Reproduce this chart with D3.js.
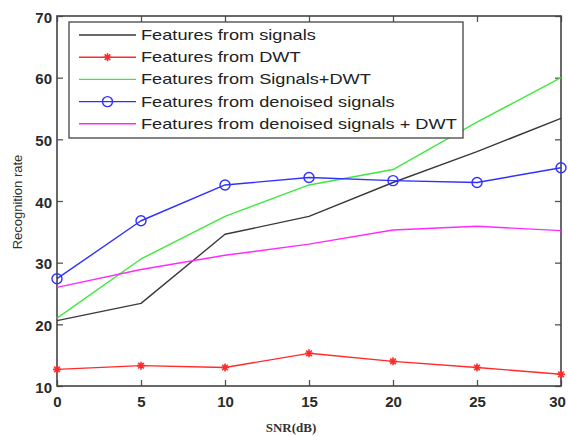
<!DOCTYPE html>
<html>
<head>
<meta charset="utf-8">
<title>Recognition rate vs SNR</title>
<script src="https://d3js.org/d3.v7.min.js"></script>
<style>
  body { margin: 0; background: #fff; }
  text { font-family: "Liberation Sans", Arial, sans-serif; }
</style>
</head>
<body>
<svg id="chart" width="568" height="437"></svg>
<script>
  /* data */
  var snr = [0, 5, 10, 15, 20, 25, 30];
  var fromSignals = [20.6, 23.4, 34.6, 37.5, 43.0, 48.0, 53.4];
  var fromDWT = [12.7, 13.3, 13.0, 15.3, 14.0, 13.0, 11.9];
  var fromSignalsDWT = [21.0, 30.6, 37.5, 42.6, 45.1, 52.8, 60.0];
  var fromDenoised = [27.4, 36.8, 42.6, 43.8, 43.3, 43.0, 45.4];
  var fromDenoisedDWT = [26.0, 28.9, 31.2, 33.0, 35.3, 35.9, 35.2];
  var xTicks = [0, 5, 10, 15, 20, 25, 30];
  var yTicks = [10, 20, 30, 40, 50, 60, 70];

  var series = [
    { name: "Features from signals", values: fromSignals, color: "#3a3a3a", marker: null },
    { name: "Features from DWT", values: fromDWT, color: "#ff2a2a", marker: "star" },
    { name: "Features from Signals+DWT", values: fromSignalsDWT, color: "#3ee83e", marker: null },
    { name: "Features from denoised signals", values: fromDenoised, color: "#3030ff", marker: "circle" },
    { name: "Features from denoised signals + DWT", values: fromDenoisedDWT, color: "#ff2aff", marker: null }
  ];

  var margin = { left: 57, top: 16, right: 7, bottom: 51 };
  var W = 568, H = 437;
  var width = W - margin.left - margin.right,
      height = H - margin.top - margin.bottom;

  var svg = d3.select("#chart");
  var g = svg.append("g").attr("transform", "translate(" + margin.left + "," + margin.top + ")");

  var x = d3.scaleLinear().domain([0, 30]).range([0, width]);
  var y = d3.scaleLinear().domain([10, 70]).range([height, 0]);

  /* axes, matlab style: ticks inside, on all four sides */
  var tickLen = 6;
  var axBottom = g.append("g").attr("transform", "translate(0," + height + ")")
    .call(d3.axisBottom(x).tickValues(xTicks).tickSizeInner(-tickLen).tickSizeOuter(0).tickPadding(10));
  var axLeft = g.append("g")
    .call(d3.axisLeft(y).tickValues(yTicks).tickSizeInner(-tickLen).tickSizeOuter(0).tickPadding(5));
  var axTop = g.append("g")
    .call(d3.axisTop(x).tickValues(xTicks).tickSizeInner(-tickLen).tickSizeOuter(0).tickFormat(""));
  var axRight = g.append("g").attr("transform", "translate(" + width + ",0)")
    .call(d3.axisRight(y).tickValues(yTicks).tickSizeInner(-tickLen).tickSizeOuter(0).tickFormat(""));

  [axBottom, axLeft, axTop, axRight].forEach(function (a) {
    a.select(".domain").remove();
    a.selectAll(".tick line").attr("stroke", "#555").attr("stroke-width", 1.3);
    a.selectAll(".tick text")
      .attr("fill", "#2a2a2a")
      .style("font-size", "15px")
      .style("font-weight", "bold")
      .style("font-family", "'Liberation Sans', Arial, sans-serif");
  });
  axLeft.selectAll(".tick text").attr("dy", "0.4em");
  // last x label sits against the right edge of the picture
  axBottom.selectAll(".tick text").filter(function (d) { return d === 30; }).attr("dx", -4);

  /* frame */
  g.append("rect")
    .attr("width", width).attr("height", height)
    .attr("fill", "none").attr("stroke", "#444").attr("stroke-width", 1.6);

  var line = d3.line()
    .x(function (d, i) { return x(snr[i]); })
    .y(function (d) { return y(d); });

  function drawMarker(sel, type, color) {
    if (type === "circle") {
      sel.append("circle").attr("r", 5)
        .attr("fill", "none").attr("stroke", color).attr("stroke-width", 1.4);
    } else if (type === "star") {
      var s = 4;
      sel.append("path")
        .attr("d", "M" + (-s) + ",0H" + s + "M0," + (-s) + "V" + s +
          "M" + (-s * 0.7) + "," + (-s * 0.7) + "L" + (s * 0.7) + "," + (s * 0.7) +
          "M" + (-s * 0.7) + "," + (s * 0.7) + "L" + (s * 0.7) + "," + (-s * 0.7))
        .attr("stroke", color).attr("stroke-width", 1.6).attr("fill", "none");
    }
  }

  series.forEach(function (s) {
    g.append("path")
      .datum(s.values)
      .attr("d", line)
      .attr("fill", "none")
      .attr("stroke", s.color)
      .attr("stroke-width", 1.4)
      .attr("stroke-linejoin", "round");
    if (s.marker) {
      s.values.forEach(function (v, i) {
        var m = g.append("g").attr("transform", "translate(" + x(snr[i]) + "," + y(v) + ")");
        drawMarker(m, s.marker, s.color);
      });
    }
  });

  /* legend */
  var lg = g.append("g").attr("transform", "translate(12,6)");
  var lgW = 394, lgH = 116, rowH = 22.2;
  lg.append("rect")
    .attr("width", lgW).attr("height", lgH)
    .attr("fill", "#fff").attr("stroke", "#444").attr("stroke-width", 1.3);
  series.forEach(function (s, i) {
    var row = lg.append("g").attr("transform", "translate(0," + (13 + i * rowH) + ")");
    row.append("line")
      .attr("x1", 10).attr("x2", 67).attr("y1", 0).attr("y2", 0)
      .attr("stroke", s.color).attr("stroke-width", 1.4);
    if (s.marker) {
      var m = row.append("g").attr("transform", "translate(38.5,0)");
      drawMarker(m, s.marker, s.color);
    }
    row.append("text")
      .attr("transform", "translate(72,5) scale(1.3,1)")
      .attr("fill", "#222")
      .style("font-size", "14px")
      .text(s.name);
  });

  /* axis titles */
  svg.append("text")
    .attr("transform", "translate(22,202) rotate(-90)")
    .attr("text-anchor", "middle")
    .attr("fill", "#333")
    .style("font-size", "13px")
    .text("Recognition rate");

  svg.append("text")
    .attr("x", 291).attr("y", 432)
    .attr("text-anchor", "middle")
    .attr("fill", "#333")
    .style("font-family", "'Liberation Serif', 'Times New Roman', serif")
    .style("font-size", "13px")
    .style("font-weight", "bold")
    .text("SNR(dB)");
</script>
</body>
</html>
